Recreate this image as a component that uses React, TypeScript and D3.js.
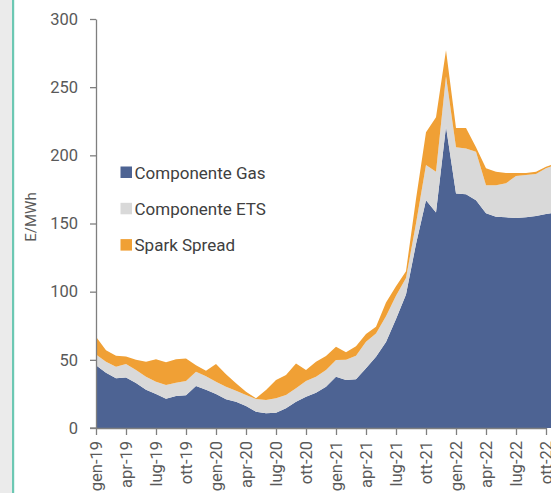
import React, { useEffect, useRef } from 'react';
import * as d3 from 'd3';

// mesi da gen-19 (indice 0) in avanti
const monthLabels = ['gen', 'feb', 'mar', 'apr', 'mag', 'giu', 'lug', 'ago', 'set', 'ott', 'nov', 'dic'];
const tickMonths = [0, 3, 6, 9, 12, 15, 18, 21, 24, 27, 30, 33, 36, 39, 42, 45];

const gas = [46, 40.6, 36.5, 37, 33, 28, 25, 21.5, 23.5, 24, 30.8, 28, 25, 21, 19.3, 16.1, 12, 10.8, 11.2, 14.4,
    19.3, 23, 25.9, 30.3, 37.6, 35.2, 35.7, 43.8, 52.3, 63, 80, 98, 135, 167, 158, 221, 172, 171.5, 167, 157.5,
    155, 154.5, 154, 154.5, 155.5, 157, 158];
const ets = [8, 8, 8.5, 10, 9.5, 9.6, 9, 10, 9.7, 10.5, 10.5, 10, 9, 9.3, 8.1, 8.1, 9.3, 9.7, 10.6, 9.8,
    9.8, 11.5, 11.7, 12.2, 12.3, 14.8, 17.3, 19.5, 17.1, 19, 17, 12, 15, 26, 30, 37, 34, 33.5, 35.7, 20.5,
    23, 25, 30.8, 31.1, 30.8, 33.5, 35];
const spark = [13, 8.4, 8, 5.5, 7.5, 11, 16.4, 16.7, 17.2, 16.5, 4.7, 4, 13, 9.2, 5.4, 2.4, 0.5, 7.4, 13.4, 14.7,
    18.3, 8, 11, 10.3, 9.7, 5.5, 7, 5.7, 4.9, 10, 7, 5, 18, 24, 40, 19, 14, 15, 3.3, 12.5,
    10, 7.5, 2.2, 1.4, 1.7, 1.2, 1];

const seriesNames = ['Componente Gas', 'Componente ETS', 'Spark Spread'];
const seriesColors = ['#4d6393', '#d9d9d9', '#f0a035'];
const yTicks = [0, 50, 100, 150, 200, 250, 300];

function App() {
    const ref = useRef(null);

    useEffect(() => {
        const svg = d3.select(ref.current);
        svg.selectAll('*').remove();

        const font = 'Roboto, sans-serif';
        const axisColor = '#7f7f7f';
        const textColor = '#595959';

        // fascia grigia a sinistra e linea verde
        svg.append('rect').attr('x', 0).attr('y', 0).attr('width', 12).attr('height', 493).attr('fill', '#ebebeb');
        svg.append('rect').attr('x', 12).attr('y', 0).attr('width', 2.2).attr('height', 493).attr('fill', '#6cc8b3');

        const x = d3.scaleLinear().domain([0, 45]).range([96, 546]);
        const y = d3.scaleLinear().domain([0, 300]).range([428, 19]);

        const rows = gas.map((g, i) => ({ i: i, gas: g, ets: ets[i], spark: spark[i] }));
        const keys = ['gas', 'ets', 'spark'];
        const stacked = d3.stack().keys(keys)(rows);

        const area = d3.area()
            .x(d => x(d.data.i))
            .y0(d => y(d[0]))
            .y1(d => y(d[1]));

        svg.append('g')
            .selectAll('path')
            .data(stacked)
            .join('path')
            .attr('d', area)
            .attr('fill', (d, i) => seriesColors[i]);

        // asse y
        const yAxis = d3.axisLeft(y)
            .tickValues(yTicks)
            .tickSize(6)
            .tickSizeOuter(0)
            .tickPadding(12);

        const gy = svg.append('g')
            .attr('transform', 'translate(96,0)')
            .call(yAxis);
        gy.select('.domain').attr('stroke', axisColor).attr('stroke-width', 1.3);
        gy.selectAll('line').attr('stroke', axisColor).attr('stroke-width', 1.3);
        gy.selectAll('text')
            .attr('fill', textColor)
            .style('font-family', font)
            .style('font-size', '16.5px');

        // asse x
        const xAxis = d3.axisBottom(x)
            .tickValues(tickMonths)
            .tickSize(7)
            .tickSizeOuter(0)
            .tickFormat(d => monthLabels[d % 12] + '-' + (19 + Math.floor(d / 12)));

        const gx = svg.append('g')
            .attr('transform', 'translate(0,428)')
            .call(xAxis);
        gx.select('.domain').attr('stroke', axisColor).attr('stroke-width', 1.3);
        gx.selectAll('line').attr('stroke', axisColor).attr('stroke-width', 1.3);
        gx.selectAll('text')
            .attr('transform', 'rotate(-90)')
            .attr('x', -13)
            .attr('y', 0)
            .attr('dy', '0.35em')
            .attr('text-anchor', 'end')
            .attr('fill', textColor)
            .style('font-family', font)
            .style('font-size', '16.5px');

        // il tick a sinistra dello zero
        svg.append('line')
            .attr('x1', 90).attr('x2', 96)
            .attr('y1', y(0)).attr('y2', y(0))
            .attr('stroke', axisColor).attr('stroke-width', 1.3);

        // titolo asse y
        svg.append('text')
            .attr('transform', 'translate(36,217) rotate(-90)')
            .attr('text-anchor', 'middle')
            .attr('fill', textColor)
            .style('font-family', font)
            .style('font-size', '15px')
            .text('E/MWh');

        // legenda
        const legend = svg.append('g');
        seriesNames.forEach((name, i) => {
            const cy = 172.5 + i * 36.3;
            legend.append('rect')
                .attr('x', 120.5).attr('y', cy - 6)
                .attr('width', 11.5).attr('height', 11.5)
                .attr('fill', seriesColors[i]);
            legend.append('text')
                .attr('x', 134.5).attr('y', cy)
                .attr('dy', '0.36em')
                .attr('fill', '#404040')
                .style('font-family', font)
                .style('font-size', '17px')
                .text(name);
        });
    }, []);

    return (
        <svg ref={ref} width={551} height={493}
            style={{ position: 'absolute', left: 0, top: 0, background: '#fff', overflow: 'hidden' }}></svg>
    );
}

export default App;
